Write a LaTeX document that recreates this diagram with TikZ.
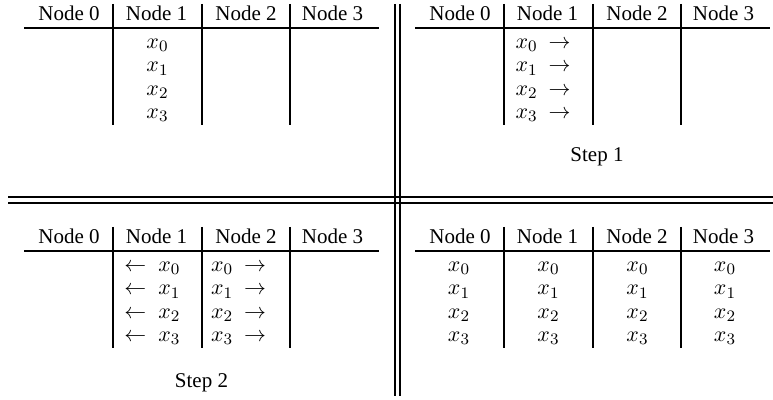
\documentclass[tikz,border=0pt]{standalone}
\usepackage[no-math]{fontspec}
\setmainfont{Liberation Serif}
\DeclareMathSizes{10.5}{10.5}{8}{6}
\begin{document}
\begin{tikzpicture}[x=0.5pt,y=-0.5pt,
  tabrule/.style={line width=1.35pt},
  sep/.style={line width=1.2pt},
  txt/.style={anchor=base,inner sep=0pt,font=\fontsize{10.5}{12.6}\selectfont},
]
\useasboundingbox (0,0) rectangle (773,400);

% one table frame: header labels, header rule and three column rules
\newcommand\tableframe[2]{%
  \begin{scope}[shift={(#2)}]
    \draw[tabrule] (24,28) -- (379,28);
    \foreach \x in {113,202,290} \draw[tabrule] (\x,4) -- (\x,125);
    \foreach \n/\x in {0/69,1/156.5,2/246,3/332.5}
      \node[txt] (#1h\n) at (\x,20.7) {Node \n};
  \end{scope}}

\tableframe{a}{0,0}
\tableframe{b}{391,0}
\tableframe{c}{0,223}
\tableframe{d}{391,223}

% initial state: data on node 1
\foreach \i in {0,...,3}
  \node[txt] (a\i) at (157.5,48.5+23.35*\i) {$x_{\i}$};

% step 1: node 1 sends
\foreach \i in {0,...,3}
  \node[txt] (b\i) at (543,48.5+23.35*\i) {$x_{\i}\hspace{2.5pt}\rightarrow$};
\node[txt] (step1) at (597,162) {Step 1};

% step 2: nodes 1 and 2 forward
\foreach \i in {0,...,3}{
  \node[txt] (cl\i) at (152.5,271.5+23.35*\i) {$\leftarrow\hspace{3pt}x_{\i}$};
  \node[txt] (cr\i) at (238.5,271.5+23.35*\i) {$x_{\i}\hspace{2.5pt}\rightarrow$};
}
\node[txt] (step2) at (201.5,387.5) {Step 2};

% final state: data on every node
\foreach \i in {0,...,3}
  \foreach \c/\x in {0/459,1/548.5,2/637.5,3/725}
    \node[txt] (d\c\i) at (\x,271.5+23.35*\i) {$x_{\i}$};

% double separators between the four stages
\draw[sep] (8,197) -- (773,197);
\draw[sep] (8,203) -- (773,203);
\draw[sep] (395,4) -- (395,396);
\draw[sep] (400,4) -- (400,396);
\end{tikzpicture}
\end{document}
